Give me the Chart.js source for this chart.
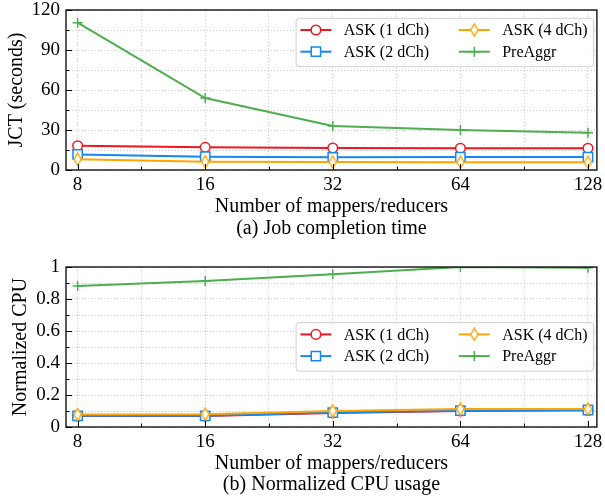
<!DOCTYPE html>
<html><head><meta charset="utf-8">
<script src="https://cdn.jsdelivr.net/npm/chart.js@4.4.1/dist/chart.umd.min.js"></script>
<style>
html,body{margin:0;padding:0;background:#fff;width:605px;height:500px;overflow:hidden}
canvas{display:block}
</style></head>
<body>
<canvas id="c1" width="605" height="250"></canvas>
<canvas id="c2" width="605" height="250"></canvas>
<script>
// ---- data ----
const mappers = [8, 16, 32, 64, 128];
const xTickLabels = ['8', '16', '32', '64', '128'];
const seriesNames = ['ASK (1 dCh)', 'ASK (2 dCh)', 'ASK (4 dCh)', 'PreAggr'];

const jctAsk1 = [18.2, 17.0, 16.5, 16.3, 16.3];
const jctAsk2 = [11.7, 10.0, 9.5, 9.7, 9.7];
const jctAsk4 = [8.0, 6.2, 6.0, 5.8, 5.8];
const jctPreAggr = [110.5, 54.0, 33.0, 30.0, 28.0];

const cpuAsk1 = [0.068, 0.068, 0.088, 0.100, 0.104];
const cpuAsk2 = [0.070, 0.070, 0.090, 0.102, 0.106];
const cpuAsk4 = [0.078, 0.080, 0.100, 0.112, 0.112];
const cpuPreAggr = [0.881, 0.912, 0.955, 1.0, 0.996];

const jctTicks = [0, 30, 60, 90, 120];
const jctTickLabels = ['0', '30', '60', '90', '120'];
const cpuTicks = [0, 0.2, 0.4, 0.6, 0.8, 1];
const cpuTickLabels = ['0', '0.2', '0.4', '0.6', '0.8', '1'];

const xTitle = 'Number of mappers/reducers';
const captionA = '(a) Job completion time';
const captionB = '(b) Normalized CPU usage';
const yTitleA = 'JCT (seconds)';
const yTitleB = 'Normalized CPU';

// ---- styles ----
const FONT = "'Liberation Serif', 'Times New Roman', serif";
const colors = ['#f01520', '#1787f0', '#ffa500', '#4cae4c'];

function thinDiamond(color) {
  const w = 9, h = 14;
  const c = document.createElement('canvas');
  c.width = w; c.height = h;
  const g = c.getContext('2d');
  g.beginPath();
  g.moveTo(w / 2, 0.9); g.lineTo(w - 0.9, h / 2); g.lineTo(w / 2, h - 0.9); g.lineTo(0.9, h / 2);
  g.closePath();
  g.fillStyle = '#fff'; g.fill();
  g.lineWidth = 1.4; g.strokeStyle = color; g.stroke();
  return c;
}
const pointStyles = ['circle', 'rect', thinDiamond(colors[2]), 'cross'];
const pointRadii = [4.8, 6.6, 6, 5];

function withMinor(majors, labels) {
  const out = [];
  majors.forEach((v, i) => {
    out.push({ value: v, lbl: labels[i] });
    if (i < majors.length - 1) out.push({ value: (v + majors[i + 1]) / 2, lbl: '' });
  });
  return out;
}

function makeDatasets(arrs) {
  return arrs.map((arr, k) => ({
    label: seriesNames[k],
    data: mappers.map((m, i) => ({ x: Math.log2(m), y: arr[i] })),
    borderColor: colors[k],
    backgroundColor: colors[k],
    borderWidth: 2,
    pointStyle: pointStyles[k],
    pointRadius: pointRadii[k],
    pointBorderColor: colors[k],
    pointBackgroundColor: k === 3 ? colors[k] : '#ffffff',
    pointBorderWidth: 1.5,
    tension: 0,
    order: 4 - k
  }));
}

const framePlugin = {
  id: 'frame',
  afterDatasetsDraw(chart) {
    const { ctx, chartArea: a, scales: { x, y } } = chart;
    ctx.save();
    ctx.strokeStyle = '#000';
    ctx.lineWidth = 1;
    ctx.beginPath();
    x.ticks.forEach(t => {
      const px = Math.round(x.getPixelForValue(t.value)) + 0.5;
      const len = t.lbl ? 6 : 3.5;
      ctx.moveTo(px, a.bottom); ctx.lineTo(px, a.bottom - len);
    });
    y.ticks.forEach(t => {
      const py = Math.round(y.getPixelForValue(t.value)) + 0.5;
      const len = t.lbl ? 6 : 3.5;
      ctx.moveTo(a.left, py); ctx.lineTo(a.left + len, py);
    });
    ctx.stroke();
    ctx.lineWidth = 1.3;
    ctx.strokeRect(a.left, a.top, a.right - a.left, a.bottom - a.top);
    ctx.restore();
  }
};

function drawMarker(ctx, style, r, x, y, stroke, fill) {
  ctx.save();
  ctx.strokeStyle = stroke; ctx.fillStyle = fill; ctx.lineWidth = 1.5;
  if (typeof style === 'object') {
    ctx.drawImage(style, x - style.width / 2, y - style.height / 2);
  } else if (style === 'circle') {
    ctx.beginPath(); ctx.arc(x, y, r, 0, Math.PI * 2); ctx.fill(); ctx.stroke();
  } else if (style === 'rect') {
    const s = r * Math.SQRT1_2;
    ctx.beginPath(); ctx.rect(x - s, y - s, 2 * s, 2 * s); ctx.fill(); ctx.stroke();
  } else if (style === 'cross') {
    ctx.beginPath(); ctx.moveTo(x, y - r); ctx.lineTo(x, y + r);
    ctx.moveTo(x - r, y); ctx.lineTo(x + r, y); ctx.stroke();
  }
  ctx.restore();
}

const legendPlugin = {
  id: 'boxLegend',
  afterDraw(chart, args, opts) {
    const { ctx, chartArea: a } = chart;
    const w = 297.5, h = 48.4;
    const x0 = a.right - 3.3 - w, y0 = a.top + opts.top;
    ctx.save();
    ctx.beginPath();
    if (ctx.roundRect) ctx.roundRect(x0, y0, w, h, 3); else ctx.rect(x0, y0, w, h);
    ctx.fillStyle = 'rgba(255,255,255,0.9)';
    ctx.fill();
    ctx.strokeStyle = '#cfcfcf'; ctx.lineWidth = 1;
    ctx.stroke();
    ctx.font = '16px ' + FONT;
    ctx.textBaseline = 'middle';
    ctx.textAlign = 'left';
    chart.data.datasets.forEach((d, i) => {
      const col = Math.floor(i / 2), row = i % 2;
      const lx = x0 + 4.3 + col * 158.4;
      const cy = y0 + 11.7 + row * 21.7;
      ctx.strokeStyle = d.borderColor; ctx.lineWidth = 2;
      ctx.beginPath(); ctx.moveTo(lx, cy); ctx.lineTo(lx + 31, cy); ctx.stroke();
      drawMarker(ctx, d.pointStyle, d.pointRadius, lx + 15.5, cy, d.pointBorderColor, d.pointBackgroundColor);
      ctx.fillStyle = '#000';
      ctx.fillText(d.label, lx + 43.4, cy + 1);
    });
    ctx.restore();
  }
};

function makeChart(id, cfg) {
  return new Chart(document.getElementById(id), {
    type: 'line',
    data: { datasets: makeDatasets(cfg.series) },
    plugins: [framePlugin, legendPlugin],
    options: {
      responsive: false, animation: false, devicePixelRatio: 1,
      layout: { padding: { top: cfg.padTop, right: 5, left: 0, bottom: 0 } },
      plugins: { legend: { display: false }, tooltip: { enabled: false }, boxLegend: { top: cfg.legendTop } },
      scales: {
        x: {
          type: 'linear', bounds: 'data', min: 2.909, max: 7.07,
          afterBuildTicks: s => { s.ticks = withMinor(mappers.map(Math.log2), xTickLabels); },
          afterFit: s => { s.height = cfg.xAxisHeight; s.paddingLeft = 0; s.paddingRight = 0; },
          ticks: { autoSkip: false, maxRotation: 0, padding: cfg.xTickPad, color: '#000',
                   font: { family: FONT, size: 19 }, callback: (v, i, t) => t[i].lbl || '' },
          grid: { color: '#b5b5b5', lineWidth: 0.8, drawTicks: false },
          border: { display: false, dash: [1, 2.2] },
          title: { display: true, text: [xTitle, cfg.caption], color: '#000',
                   font: { family: FONT, size: 20, lineHeight: 1.08 },
                   padding: { top: 0, bottom: cfg.xTitlePadBottom } }
        },
        y: {
          type: 'linear', bounds: 'data', min: cfg.yMin, max: cfg.yMax,
          afterBuildTicks: s => { s.ticks = withMinor(cfg.yTicks, cfg.yTickLabels); },
          afterFit: s => { s.width = 66; s.paddingTop = 0; s.paddingBottom = 0; },
          ticks: { autoSkip: false, padding: 6, color: '#000',
                   font: { family: FONT, size: 19 }, callback: (v, i, t) => t[i].lbl || '' },
          grid: { color: '#b5b5b5', lineWidth: 0.8, drawTicks: false },
          border: { display: false, dash: [1, 2.2] },
          title: { display: true, text: cfg.yTitle, color: '#000',
                   font: { family: FONT, size: 20, lineHeight: 1.2 },
                   padding: { top: cfg.yTitlePadTop, bottom: 0 } }
        }
      }
    }
  });
}

makeChart('c1', {
  series: [jctAsk1, jctAsk2, jctAsk4, jctPreAggr],
  padTop: 10, xAxisHeight: 80, xTickPad: 4, xTitlePadBottom: 10.9,
  caption: captionA, yMin: 0, yMax: 120, yTicks: jctTicks, yTickLabels: jctTickLabels,
  yTitle: yTitleA, yTitlePadTop: 4.7, legendTop: 8.3
});
makeChart('c2', {
  series: [cpuAsk1, cpuAsk2, cpuAsk4, cpuPreAggr],
  padTop: 17, xAxisHeight: 73, xTickPad: 4, xTitlePadBottom: 4.2,
  caption: captionB, yMin: 0, yMax: 1, yTicks: cpuTicks, yTickLabels: cpuTickLabels,
  yTitle: yTitleB, yTitlePadTop: 8.5, legendTop: 55.7
});
</script>
</body></html>
